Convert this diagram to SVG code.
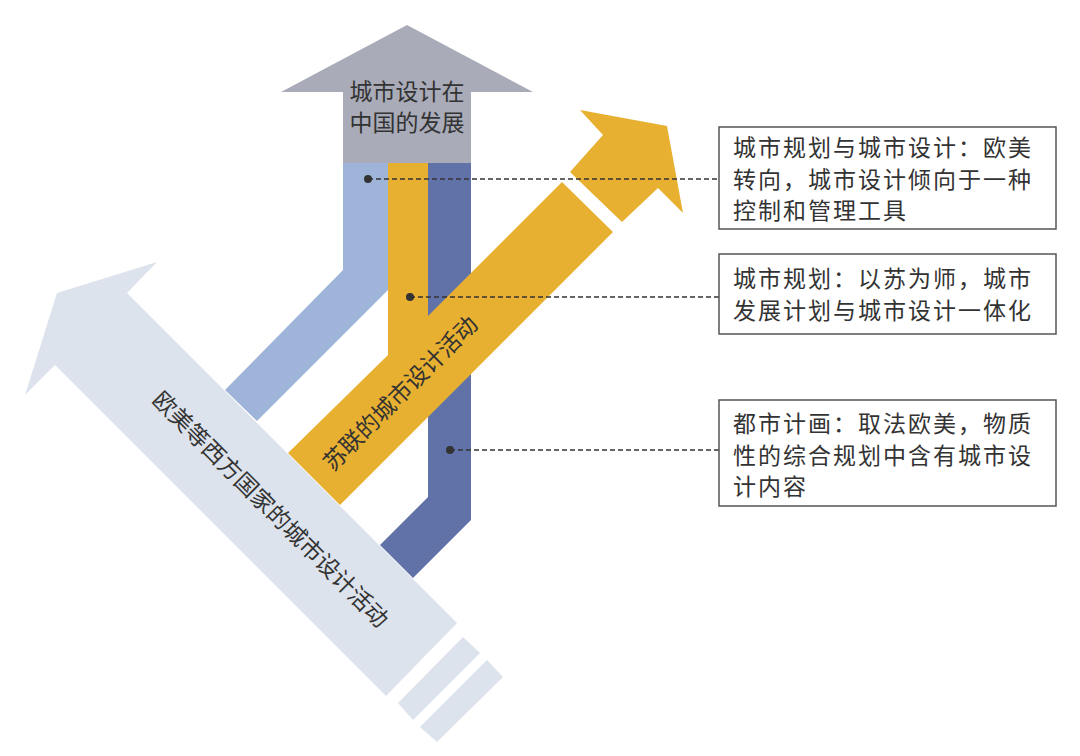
<svg xmlns="http://www.w3.org/2000/svg" width="1080" height="756" viewBox="0 0 1080 756">
<style>
text{font-family:"Noto Sans CJK SC","Noto Sans",sans-serif;fill:#333;font-size:23px}
.box{fill:#fff;stroke:#555;stroke-width:1.5}
.dash{stroke:#333;stroke-width:1.5;stroke-dasharray:5 3;fill:none}
.dot{fill:#333}
.bt{letter-spacing:2px}
</style>
<rect width="1080" height="756" fill="#fff"/>
<g id="west">
<polygon fill="#dde3ec" points="157,262 127,293 457,623 386,696 55,365 25,395 57,293"/>
<polygon fill="#dde3ec" points="463,637 480,653 413,720 398,703"/>
<polygon fill="#dde3ec" points="487,660 503,677 437,742 420,727"/>
<text transform="translate(272,508) rotate(45)" text-anchor="middle" dominant-baseline="central">欧美等西方国家的城市设计活动</text>
</g>
<g id="china">
<polygon fill="#a9abb8" points="407,25 533,92 471,92 471,164 343,164 343,92 281,92"/>
<text x="407" y="100" text-anchor="middle">城市设计在</text>
<text x="407" y="131" text-anchor="middle">中国的发展</text>
</g>
<g id="lightblue">
<polygon fill="#9fb4d9" points="343,163 388,163 388,290 257,421 225,390 343,270"/>
</g>
<g id="darkblue">
<polygon fill="#6072a8" points="428,163 471,163 471,520 413,578 380,545 428,497"/>
</g>
<g id="soviet">
<polygon fill="#e8b030" points="388,163 428,163 428,316 562,182 613,232 340,505 288,453 388,355"/>
<polygon fill="#e8b030" points="570,172 603,135 580,110 667,126 683,213 658,188 622,222"/>
<text transform="translate(399,392) rotate(-45)" text-anchor="middle" dominant-baseline="central">苏联的城市设计活动</text>
</g>
<g id="connectors">
<line class="dash" x1="368" y1="179" x2="719" y2="179"/>
<circle class="dot" cx="368" cy="179" r="4"/>
<line class="dash" x1="410" y1="297" x2="719" y2="297"/>
<circle class="dot" cx="410" cy="297" r="4"/>
<line class="dash" x1="450" y1="450" x2="719" y2="450"/>
<circle class="dot" cx="450" cy="450" r="4"/>
</g>
<g id="box1">
<rect class="box" x="719" y="127" width="337" height="102"/>
<text class="bt" x="733" y="156">城市规划与城市设计：欧美</text>
<text class="bt" x="733" y="188">转向，城市设计倾向于一种</text>
<text class="bt" x="733" y="219">控制和管理工具</text>
</g>
<g id="box2">
<rect class="box" x="719" y="254" width="337" height="80"/>
<text class="bt" x="733" y="287">城市规划：以苏为师，城市</text>
<text class="bt" x="733" y="319">发展计划与城市设计一体化</text>
</g>
<g id="box3">
<rect class="box" x="719" y="400" width="337" height="106"/>
<text class="bt" x="733" y="432">都市计画：取法欧美，物质</text>
<text class="bt" x="733" y="464">性的综合规划中含有城市设</text>
<text class="bt" x="733" y="495">计内容</text>
</g>
</svg>
